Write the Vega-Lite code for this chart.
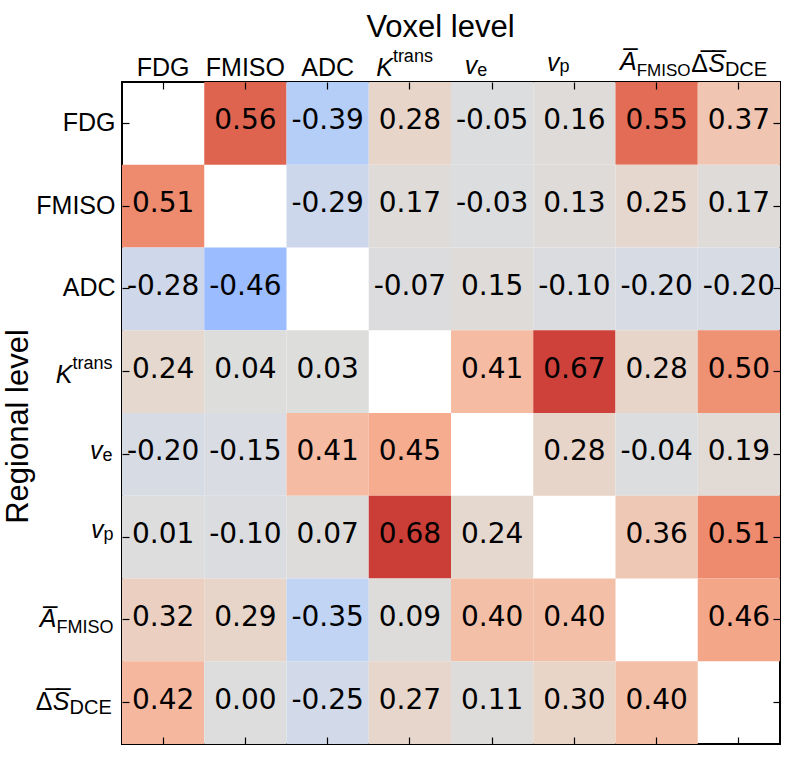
{
  "$schema": "https://vega.github.io/schema/vega-lite/v6.json",
  "autosize": "none",
  "width": 658,
  "height": 662,
  "padding": {"left": 122, "top": 82, "right": 19, "bottom": 21},
  "background": "white",
  "config": {
    "view": {"stroke": "black", "strokeWidth": 2},
    "locale": {"number": {"decimal": ".", "thousands": ",", "grouping": [3], "currency": ["", ""], "minus": "-"}},
    "axis": {"domain": false, "grid": false, "labelOverlap": false, "labelColor": "black", "tickColor": "black", "labelFont": "Liberation Sans", "titleFont": "Liberation Sans", "titleFontWeight": "normal", "titleColor": "black", "labelLimit": 300}
  },
  "data": {"values": [
    {"r": "FDG", "c": "FMISO", "v": 0.56}, {"r": "FDG", "c": "ADC", "v": -0.39}, {"r": "FDG", "c": "Ktrans", "v": 0.28}, {"r": "FDG", "c": "ve", "v": -0.05}, {"r": "FDG", "c": "vp", "v": 0.16}, {"r": "FDG", "c": "A", "v": 0.55}, {"r": "FDG", "c": "S", "v": 0.37},
    {"r": "FMISO", "c": "FDG", "v": 0.51}, {"r": "FMISO", "c": "ADC", "v": -0.29}, {"r": "FMISO", "c": "Ktrans", "v": 0.17}, {"r": "FMISO", "c": "ve", "v": -0.03}, {"r": "FMISO", "c": "vp", "v": 0.13}, {"r": "FMISO", "c": "A", "v": 0.25}, {"r": "FMISO", "c": "S", "v": 0.17},
    {"r": "ADC", "c": "FDG", "v": -0.28}, {"r": "ADC", "c": "FMISO", "v": -0.46}, {"r": "ADC", "c": "Ktrans", "v": -0.07}, {"r": "ADC", "c": "ve", "v": 0.15}, {"r": "ADC", "c": "vp", "v": -0.10}, {"r": "ADC", "c": "A", "v": -0.20}, {"r": "ADC", "c": "S", "v": -0.20},
    {"r": "Ktrans", "c": "FDG", "v": 0.24}, {"r": "Ktrans", "c": "FMISO", "v": 0.04}, {"r": "Ktrans", "c": "ADC", "v": 0.03}, {"r": "Ktrans", "c": "ve", "v": 0.41}, {"r": "Ktrans", "c": "vp", "v": 0.67}, {"r": "Ktrans", "c": "A", "v": 0.28}, {"r": "Ktrans", "c": "S", "v": 0.50},
    {"r": "ve", "c": "FDG", "v": -0.20}, {"r": "ve", "c": "FMISO", "v": -0.15}, {"r": "ve", "c": "ADC", "v": 0.41}, {"r": "ve", "c": "Ktrans", "v": 0.45}, {"r": "ve", "c": "vp", "v": 0.28}, {"r": "ve", "c": "A", "v": -0.04}, {"r": "ve", "c": "S", "v": 0.19},
    {"r": "vp", "c": "FDG", "v": 0.01}, {"r": "vp", "c": "FMISO", "v": -0.10}, {"r": "vp", "c": "ADC", "v": 0.07}, {"r": "vp", "c": "Ktrans", "v": 0.68}, {"r": "vp", "c": "ve", "v": 0.24}, {"r": "vp", "c": "A", "v": 0.36}, {"r": "vp", "c": "S", "v": 0.51},
    {"r": "A", "c": "FDG", "v": 0.32}, {"r": "A", "c": "FMISO", "v": 0.29}, {"r": "A", "c": "ADC", "v": -0.35}, {"r": "A", "c": "Ktrans", "v": 0.09}, {"r": "A", "c": "ve", "v": 0.40}, {"r": "A", "c": "vp", "v": 0.40}, {"r": "A", "c": "S", "v": 0.46},
    {"r": "S", "c": "FDG", "v": 0.42}, {"r": "S", "c": "FMISO", "v": 0.00}, {"r": "S", "c": "ADC", "v": -0.25}, {"r": "S", "c": "Ktrans", "v": 0.27}, {"r": "S", "c": "ve", "v": 0.11}, {"r": "S", "c": "vp", "v": 0.30}, {"r": "S", "c": "A", "v": 0.40}
  ]},
  "resolve": {"axis": {"x": "independent", "y": "independent"}},
  "layer": [
    {
      "mark": {"type": "rect"},
      "encoding": {
        "x": {"field": "c", "type": "nominal", "sort": ["FDG","FMISO","ADC","Ktrans","ve","vp","A","S"],
          "scale": {"domain": ["FDG","FMISO","ADC","Ktrans","ve","vp","A","S"], "paddingInner": 0, "paddingOuter": 0},
          "axis": {"orient": "top", "ticks": false, "labelBaseline": "alphabetic", "labelFontSize": 25, "labelAngle": 0,
            "labelExpr": "datum.value==='Ktrans' ? 'K' : (datum.value==='ve' || datum.value==='vp') ? 'v' : datum.value==='A' ? 'A\u0305' : datum.value==='S' ? 'S\u0305' : datum.value",
            "labelAlign": {"condition": {"test": "indexof(['Ktrans','ve','vp','A','S'], datum.value) >= 0", "value": "right"}, "value": "center"},
            "labelFontStyle": {"condition": {"test": "indexof(['Ktrans','ve','vp','A','S'], datum.value) >= 0", "value": "italic"}, "value": "normal"},
            "labelOffset": {"condition": [
              {"test": "datum.value==='Ktrans'", "value": -17},
              {"test": "datum.value==='ve'", "value": -15},
              {"test": "datum.value==='vp'", "value": -15},
              {"test": "datum.value==='A'", "value": -20},
              {"test": "datum.value==='S'", "value": -14}], "value": 0},
            "labelPadding": {"condition": [
              {"test": "datum.value==='ve'", "value": 9},
              {"test": "datum.value==='vp'", "value": 12},
              {"test": "datum.value==='A'", "value": 13},
              {"test": "datum.value==='S'", "value": 11}], "value": 7},
            "title": "Voxel level", "titleFontSize": 31, "titleX": 318, "titleY": -46, "titleBaseline": "alphabetic", "titleAlign": "center", "titleAnchor": null
          }},
        "y": {"field": "r", "type": "nominal", "sort": ["FDG","FMISO","ADC","Ktrans","ve","vp","A","S"],
          "scale": {"domain": ["FDG","FMISO","ADC","Ktrans","ve","vp","A","S"], "paddingInner": 0, "paddingOuter": 0},
          "axis": {"orient": "left", "ticks": false, "labelBaseline": "alphabetic", "labelAlign": "right", "labelFontSize": 25,
            "labelExpr": "datum.value==='Ktrans' ? 'K' : (datum.value==='ve' || datum.value==='vp') ? 'v' : datum.value==='A' ? 'A\u0305' : datum.value==='S' ? 'S\u0305' : datum.value",
            "labelFontStyle": {"condition": {"test": "indexof(['Ktrans','ve','vp','A','S'], datum.value) >= 0", "value": "italic"}, "value": "normal"},
            "labelOffset": {"condition": [
              {"test": "datum.value==='Ktrans'", "value": 11},
              {"test": "datum.value==='ve'", "value": 4.5},
              {"test": "datum.value==='vp'", "value": 1},
              {"test": "datum.value==='A'", "value": 7.5},
              {"test": "datum.value==='S'", "value": 7}], "value": 7.5},
            "labelPadding": {"condition": [
              {"test": "datum.value==='Ktrans'", "value": 50},
              {"test": "datum.value==='ve'", "value": 20},
              {"test": "datum.value==='vp'", "value": 19},
              {"test": "datum.value==='A'", "value": 66},
              {"test": "datum.value==='S'", "value": 53}], "value": 7},
            "title": "Regional level", "titleFontSize": 31, "titleX": -95, "titleY": 344, "titleAngle": -90, "titleBaseline": "alphabetic", "titleAlign": "center", "titleAnchor": null
          }},
        "color": {"field": "v", "type": "quantitative", "legend": null,
          "scale": {"type": "linear", "interpolate": "rgb",
            "domain": [-0.46, -0.39, -0.35, -0.28, -0.2, -0.1, 0, 0.17, 0.24, 0.3, 0.37, 0.41, 0.45, 0.47, 0.51, 0.56, 0.68],
            "range": ["#9bbcff", "#b5cef8", "#c1d4f3", "#cfd8ea", "#d7dbe4", "#dbdcdf", "#dddddd", "#dfdbd8", "#e5d8cf", "#e9d4c8", "#f0c6b2", "#f5bca3", "#f5ac8f", "#f3a183", "#ee8b6e", "#df644f", "#cb3e38"]}}
      }
    },
    {
      "mark": {"type": "text", "font": "DejaVu Sans", "fontSize": 28, "fill": "black", "baseline": "middle", "align": "center", "dy": -2},
      "encoding": {
        "x": {"field": "c", "type": "nominal", "sort": ["FDG","FMISO","ADC","Ktrans","ve","vp","A","S"],
          "axis": {"orient": "top", "ticks": false, "labelBaseline": "alphabetic", "labelAlign": "left", "labelAngle": 0, "title": null,
            "labelFontSize": {"condition": [{"test": "datum.value==='S'", "value": 20}, {"test": "datum.value==='A'", "value": 17}], "value": 18},
            "labelExpr": "datum.value==='Ktrans' ? 'trans' : datum.value==='ve' ? 'e' : datum.value==='vp' ? 'p' : datum.value==='A' ? 'FMISO' : datum.value==='S' ? 'DCE' : ''",
            "labelOffset": {"condition": [
              {"test": "datum.value==='Ktrans'", "value": -17},
              {"test": "datum.value==='ve'", "value": -15},
              {"test": "datum.value==='vp'", "value": -15},
              {"test": "datum.value==='A'", "value": -20},
              {"test": "datum.value==='S'", "value": -14}], "value": 0},
            "labelPadding": {"condition": [
              {"test": "datum.value==='Ktrans'", "value": 21},
              {"test": "datum.value==='vp'", "value": 11}], "value": 7}
          }},
        "y": {"field": "r", "type": "nominal", "sort": ["FDG","FMISO","ADC","Ktrans","ve","vp","A","S"],
          "axis": {"orient": "left", "ticks": false, "labelBaseline": "alphabetic", "labelAlign": "left", "title": null,
            "labelFontSize": {"condition": {"test": "datum.value==='S'", "value": 20}, "value": 18},
            "labelExpr": "datum.value==='Ktrans' ? 'trans' : datum.value==='ve' ? 'e' : datum.value==='vp' ? 'p' : datum.value==='A' ? 'FMISO' : datum.value==='S' ? 'DCE' : ''",
            "labelOffset": {"condition": [
              {"test": "datum.value==='Ktrans'", "value": -3},
              {"test": "datum.value==='ve'", "value": 6.5},
              {"test": "datum.value==='vp'", "value": 3},
              {"test": "datum.value==='A'", "value": 13.5},
              {"test": "datum.value==='S'", "value": 11}], "value": 0},
            "labelPadding": {"condition": [
              {"test": "datum.value==='Ktrans'", "value": 50},
              {"test": "datum.value==='ve'", "value": 20},
              {"test": "datum.value==='vp'", "value": 19},
              {"test": "datum.value==='A'", "value": 66},
              {"test": "datum.value==='S'", "value": 53}], "value": 7}
          }},
        "text": {"field": "v", "type": "quantitative", "format": ".2f"}
      }
    },
    {
      "mark": {"type": "rect", "fillOpacity": 0},
      "encoding": {
        "x": {"field": "c", "type": "nominal", "sort": ["FDG","FMISO","ADC","Ktrans","ve","vp","A","S"],
          "axis": {"orient": "top", "ticks": true, "tickSize": 7, "tickWidth": 1.2, "offset": -7, "title": null,
            "labelBaseline": "alphabetic", "labelAlign": "right", "labelFontSize": 25, "labelAngle": 0, "labelPadding": 11, "labelOffset": -31,
            "labelExpr": "datum.value==='S' ? '\u0394\u0305' : ''"}},
        "y": {"field": "r", "type": "nominal", "sort": ["FDG","FMISO","ADC","Ktrans","ve","vp","A","S"],
          "axis": {"orient": "left", "ticks": true, "tickSize": 7, "tickWidth": 1.2, "offset": -7, "title": null,
            "labelBaseline": "alphabetic", "labelAlign": "right", "labelFontSize": 25, "labelPadding": 70, "labelOffset": 7,
            "labelExpr": "datum.value==='S' ? '\u0394\u0305' : ''"}}
      }
    },
    {
      "mark": {"type": "rect", "fillOpacity": 0},
      "encoding": {
        "x": {"field": "c", "type": "nominal", "sort": ["FDG","FMISO","ADC","Ktrans","ve","vp","A","S"],
          "axis": {"orient": "bottom", "labels": false, "ticks": true, "tickSize": 7, "tickWidth": 1.2, "offset": -7, "title": null}},
        "y": {"field": "r", "type": "nominal", "sort": ["FDG","FMISO","ADC","Ktrans","ve","vp","A","S"],
          "axis": {"orient": "right", "labels": false, "ticks": true, "tickSize": 7, "tickWidth": 1.2, "offset": -7, "title": null}}
      }
    }
  ]
}
